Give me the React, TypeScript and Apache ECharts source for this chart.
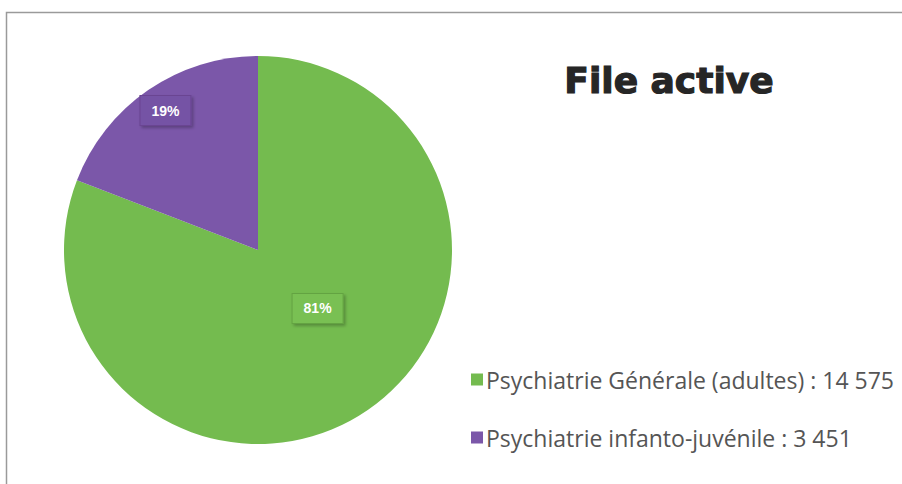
import React, { useEffect, useRef } from "react";
import * as echarts from "echarts";

const categories = ["Psychiatrie Générale (adultes)", "Psychiatrie infanto-juvénile"];
const counts = ["14 575", "3 451"];
const values = [14575, 3451];
const colors = ["#74bb4f", "#7b57a9"];
const labelColors = ["#79c053", "#7552a5"];
const title = "File active";

export default function App() {
  const ref = useRef<HTMLDivElement>(null);
  useEffect(() => {
    const chart = echarts.init(ref.current!, undefined, { renderer: "svg" });
    const total = values.reduce((a, b) => a + b, 0);
    const offsets: [number, number][] = [[3, -24], [-36, -57]];
    chart.setOption({
      animation: false,
      backgroundColor: "#ffffff",
      legend: {
        orient: "vertical",
        left: 466,
        top: 363,
        itemGap: 35,
        itemWidth: 12,
        itemHeight: 12,
        icon: "rect",
        data: categories,
        formatter: (name: string) => `${name} : ${counts[categories.indexOf(name)]}`,
        textStyle: {
          fontFamily: "Open Sans",
          fontSize: 23,
          color: "#555555",
          padding: [0, 0, 0, -2],
        },
      },
      graphic: [
        {
          type: "rect",
          shape: { x: 6.5, y: 12.5, width: 1000, height: 600 },
          style: { fill: "none", stroke: "#9a9a9a", lineWidth: 1.5 },
          silent: true,
        },
        {
          type: "text",
          x: 669,
          y: 80,
          style: {
            text: title,
            align: "center",
            verticalAlign: "middle",
            fontFamily: "DejaVu Sans",
            fontWeight: "bold",
            fontSize: 36,
            fill: "#262626",
            stroke: "#262626",
            lineWidth: 1.2,
          },
          silent: true,
        },
      ],
      series: [
        {
          type: "pie",
          center: [258, 250],
          radius: 194,
          startAngle: 90,
          clockwise: true,
          data: categories.map((c, i) => ({
            name: c,
            value: values[i],
            itemStyle: { color: colors[i] },
            label: {
              offset: offsets[i],
              backgroundColor: labelColors[i],
              borderColor: i === 0 ? "#64a343" : "#6a4592",
              borderWidth: 1,
              shadowColor: "rgba(0,0,0,0.25)",
              shadowBlur: 3,
              shadowOffsetX: 2,
              shadowOffsetY: 2,
            },
          })),
          label: {
            show: true,
            position: "inside",
            formatter: (p: any) => `${Math.round((p.value / total) * 100)}%`,
            color: "#ffffff",
            fontFamily: "Liberation Sans",
            fontWeight: "bold",
            fontSize: 14,
            padding: [8, 11, 7, 11],
          },
          labelLine: { show: false },
          emphasis: { disabled: true },
        },
      ],
    });
    return () => chart.dispose();
  }, []);
  return <div ref={ref} style={{ width: 902, height: 484, position: "absolute", left: 0, top: 0 }} />;
}
